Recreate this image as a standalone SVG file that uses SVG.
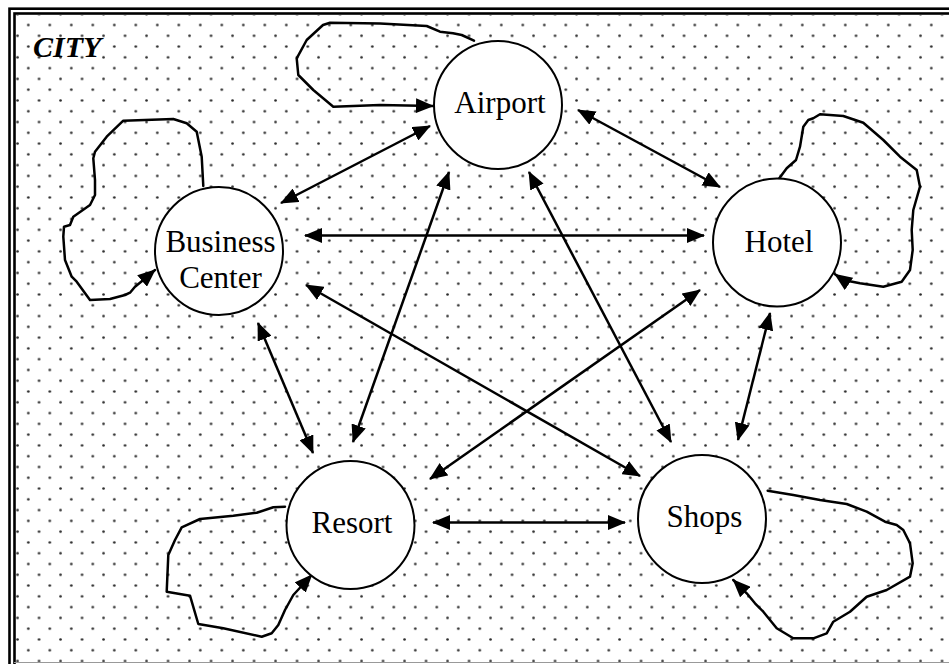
<svg xmlns="http://www.w3.org/2000/svg" width="949" height="664" viewBox="0 0 949 664">
  <style>
    .node circle { fill: #fff; stroke: #000; stroke-width: 2; }
    .node text { font-family: "Liberation Serif", "Times New Roman", serif; font-size: 31px; fill: #000; text-anchor: middle; }
    .edge { fill: none; stroke: #000; stroke-width: 2.5; marker-start: url(#arrow); marker-end: url(#arrow); }
    .loop { fill: none; stroke: #000; stroke-width: 2.5; stroke-linejoin: round; stroke-linecap: round; marker-end: url(#arrow); }
    .title { font-family: "Liberation Serif", "Times New Roman", serif; font-size: 30px; font-weight: bold; font-style: italic; fill: #000; }
    .frame { fill: none; stroke: #000; stroke-width: 2.6; }
  </style>
  <defs>
    <pattern id="dots" patternUnits="userSpaceOnUse" x="1.425" y="19.61" width="21.5" height="21.56">
      <circle cx="5.375" cy="5.39" r="1.3" fill="#2a2a2a"/>
      <circle cx="16.125" cy="16.17" r="1.3" fill="#2a2a2a"/>
    </pattern>
    <marker id="arrow" markerUnits="userSpaceOnUse" viewBox="0 0 18 15" markerWidth="18" markerHeight="15" refX="17" refY="7.5" orient="auto-start-reverse">
      <path d="M0,0 L18,7.5 L0,15 z" fill="#000"/>
    </marker>
  </defs>

  <g id="background">
    <rect x="0" y="0" width="949" height="664" fill="#fff"/>
    <rect x="16" y="15" width="933" height="649" fill="url(#dots)"/>
    <rect class="frame" x="9.5" y="8.7" width="980" height="700"/>
    <rect class="frame" x="14.5" y="13.5" width="970" height="690"/>
    <line x1="14" y1="662.5" x2="949" y2="662.5" stroke="#999" stroke-width="1"/>
  </g>

  <text class="title" x="33" y="57" font-family="Liberation Serif, Times New Roman, serif">CITY</text>

  <g id="connectors">
    <line class="edge" x1="281" y1="203" x2="430" y2="126"/>
    <line class="edge" x1="578" y1="110" x2="720" y2="187"/>
    <line class="edge" x1="305" y1="235.5" x2="704" y2="235.5"/>
    <line class="edge" x1="449" y1="172" x2="353" y2="442"/>
    <line class="edge" x1="529" y1="172" x2="671" y2="442"/>
    <line class="edge" x1="258" y1="323" x2="313" y2="453"/>
    <line class="edge" x1="306" y1="285" x2="640" y2="476"/>
    <line class="edge" x1="700" y1="290" x2="430" y2="479"/>
    <line class="edge" x1="770" y1="313" x2="738" y2="440"/>
    <line class="edge" x1="433" y1="522.5" x2="625" y2="522.5"/>

    <path class="loop" d="M474,40.7 L461.7,35 L453,33.3 L440,31.7 L426.7,26 L380,23.5 L330,22.7 L323,25 L306.7,40 L296.7,58.3 L298.3,75 L313.3,90 L333.3,106.7 L380,105 L433,106"/>
    <path class="loop" d="M203.3,186 L201.7,156.7 L196.7,131.7 L186.7,123.3 L173.3,119 L123.3,120.7 L106.7,136.7 L95,151.7 L93.3,158.3 L95,180 L95,195 L90,205 L73.3,216.7 L70,225 L64,226.7 L63.3,236.7 L65,260 L71.7,276.7 L76.7,281.7 L90,300 L110,299 L125,295 L130,292.7 L135,286.7 L143.3,280 L155,270"/>
    <path class="loop" d="M779.3,178.3 L786.7,168.3 L796,160 L800,146.7 L803.3,126.7 L808.3,120 L813.3,118.3 L820,114.3 L843.3,116 L863.3,122.7 L883.3,140 L900,156.7 L916.7,170 L920,186.7 L913.3,210 L911.7,230 L912.7,250 L910,270 L901.7,281.7 L883.3,286.7 L860,283.3 L843.3,280 L835,274.3"/>
    <path class="loop" d="M285,506.7 L273.3,507.3 L256.7,512.7 L233.3,515.7 L200,519 L181.7,527.3 L175,540 L168.3,555 L166.7,591.7 L190,595.7 L198.3,624 L223.3,628.3 L261.7,636.7 L271.7,633.3 L278.3,625 L285,610 L293.3,595 L311.7,575"/>
    <path class="loop" d="M767.7,490.7 L793.3,495 L820,500 L846.7,504 L866.7,511.7 L885,521.7 L896.7,525 L903.3,530 L910,543.3 L912.7,563.3 L910,576.7 L886.7,590 L866.7,596.7 L850,611.7 L833.3,621.7 L826.7,633.3 L813.3,638.3 L793.3,638.3 L776.7,628.3 L763.3,611.7 L755,603.3 L746.7,593.3 L733.3,580"/>
  </g>

  <g id="airport" class="node">
    <circle cx="498" cy="105" r="64"/>
    <text x="500" y="113" font-family="Liberation Serif, Times New Roman, serif">Airport</text>
  </g>
  <g id="business-center" class="node">
    <circle cx="219" cy="251" r="64"/>
    <text x="220.5" y="252" font-family="Liberation Serif, Times New Roman, serif">Business</text>
    <text x="220.5" y="288" font-family="Liberation Serif, Times New Roman, serif">Center</text>
  </g>
  <g id="hotel" class="node">
    <circle cx="777" cy="242.5" r="64"/>
    <text x="779" y="252" font-family="Liberation Serif, Times New Roman, serif">Hotel</text>
  </g>
  <g id="resort" class="node">
    <circle cx="350.5" cy="525" r="64"/>
    <text x="352" y="533" font-family="Liberation Serif, Times New Roman, serif">Resort</text>
  </g>
  <g id="shops" class="node">
    <circle cx="702" cy="519" r="64"/>
    <text x="704.5" y="527" font-family="Liberation Serif, Times New Roman, serif">Shops</text>
  </g>
</svg>
